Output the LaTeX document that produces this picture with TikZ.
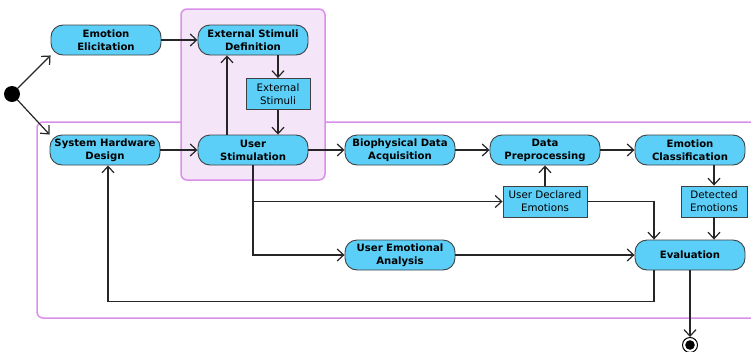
\documentclass[tikz,border=0pt]{standalone}
\usepackage{fontspec}
\setmainfont{DejaVu Sans}
\usetikzlibrary{arrows.meta,calc}
\definecolor{boxfill}{HTML}{5BCFF8}
\definecolor{boxline}{HTML}{404040}
\definecolor{frameline}{HTML}{DA8FEA}
\definecolor{framefill}{HTML}{F5E5F8}
\tikzset{
  act/.style={rectangle, rounded corners=12pt, fill=boxfill, draw=boxline, line width=0.9pt,
    minimum width=110pt, minimum height=30pt, align=center, inner sep=1pt,
    font=\fontsize{10.1}{13}\selectfont\bfseries},
  obj/.style={rectangle, fill=boxfill, draw=boxline, line width=0.9pt,
    minimum height=31pt, align=center, inner sep=1pt,
    font=\fontsize{10.3}{13}\selectfont},
  arr/.style={draw=black!85, line width=1.2pt, -{Straight Barb[length=6.5pt,width=12pt,line width=1.2pt]}},
  frame/.style={draw=frameline, line width=1.5pt, rounded corners=6pt}
}
\begin{document}
\begin{tikzpicture}[x=1pt,y=-1pt]
\useasboundingbox (0,0) rectangle (751,351);
% outer frame (open on the right)
\draw[frame] (751,122) -- (37,122) -- (37,318) -- (751,318);
% inner frame
\draw[frame, fill=framefill] (181,9) rectangle (325,180);

% nodes
\node[act] (ee) at (106,40) {Emotion\\Elicitation};
\node[act] (esd) at (253,40) {External Stimuli\\Definition};
\node[obj, minimum width=64pt] (es) at (278,94) {External\\Stimuli};
\node[act] (shd) at (105,150) {System Hardware\\Design};
\node[act] (us) at (253,150) {User\\Stimulation};
\node[act] (bda) at (400,150) {Biophysical Data\\Acquisition};
\node[act] (dp) at (545,150) {Data\\Preprocessing};
\node[act] (ec) at (690,150) {Emotion\\Classification};
\node[obj, minimum width=84pt] (ude) at (545,201.5) {User Declared\\Emotions};
\node[obj, minimum width=66pt] (de) at (714,201.5) {Detected\\Emotions};
\node[act] (uea) at (400,255) {User Emotional\\Analysis};
\node[act] (ev) at (690,255) {Evaluation};

% initial and final
\node[circle, fill=black, minimum size=16pt, inner sep=0pt] (init) at (12,94) {};
\node[circle, draw=black, line width=1pt, fill=white, minimum size=15pt, inner sep=0pt] (fin) at (690,345) {};
\fill[black] (fin.center) circle (4.8pt);

% connectors
\draw[arr] (init) -- (ee.south west);
\draw[arr] (init) -- (shd.north west);
\draw[arr] (ee) -- (esd);
\draw[arr] ([xshift=25pt]esd.south) -- (es.north);
\draw[arr] (es.south) -- ([xshift=25pt]us.north);
\draw[arr] ([xshift=-26pt]us.north) -- ([xshift=-26pt]esd.south);
\draw[arr] (shd) -- (us);
\draw[arr] (us) -- (bda);
\draw[arr] (bda) -- (dp);
\draw[arr] (dp) -- (ec);
\draw[arr] (ude.north) -- (dp.south);
\draw[arr] (ec.south -| de.north) -- (de.north);
\draw[arr] (de.south) -- (de.south |- ev.north);
\draw[arr] (ude.east) -| ([xshift=-36pt]ev.north);
\draw[arr] (us.south) |- (ude.west);
\draw[arr] (us.south) |- (uea.west);
\draw[arr] (uea) -- (ev);
\draw[arr] ([xshift=-36pt]ev.south) -- ++(0,31) -| ([xshift=3pt]shd.south);
\draw[arr] (ev.south) -- (fin.north);
\end{tikzpicture}
\end{document}
